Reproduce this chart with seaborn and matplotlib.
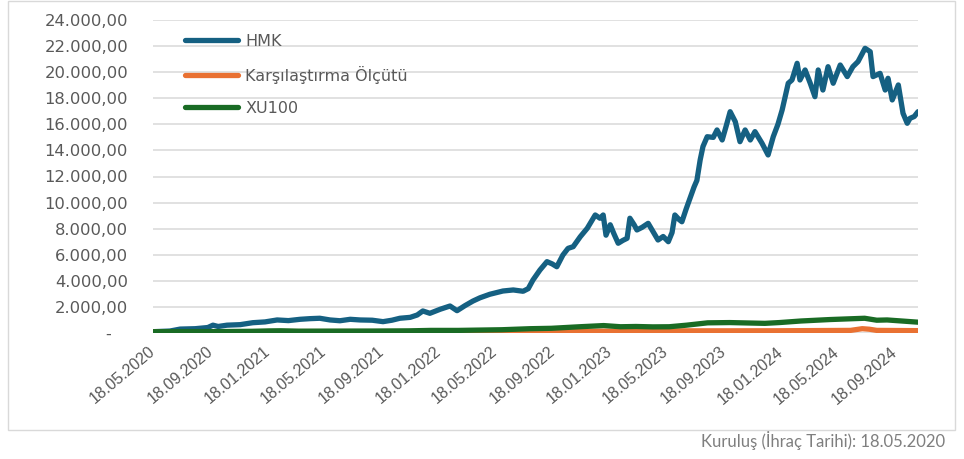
import matplotlib
matplotlib.use("Agg")
import matplotlib.pyplot as plt
from matplotlib.ticker import FuncFormatter
from matplotlib.patches import Rectangle
import pandas as pd
import seaborn as sns

# ---------------- data ----------------
series_names = ["HMK", "Karşılaştırma Ölçütü", "XU100"]

hmk_dates = [
    "2020-05-18", "2020-06-23", "2020-07-15", "2020-08-16", "2020-09-12", "2020-09-23",
    "2020-10-04", "2020-10-23", "2020-11-20", "2020-12-17", "2021-01-12", "2021-02-07",
    "2021-03-03", "2021-03-28", "2021-04-18", "2021-05-09", "2021-05-31", "2021-06-21",
    "2021-07-13", "2021-08-03", "2021-08-29", "2021-09-21", "2021-10-10", "2021-10-27",
    "2021-11-18", "2021-12-03", "2021-12-15", "2021-12-30", "2022-01-21", "2022-02-11",
    "2022-02-26", "2022-03-15", "2022-04-01", "2022-04-16", "2022-05-07", "2022-06-04",
    "2022-06-26", "2022-07-17", "2022-07-28", "2022-08-07", "2022-08-22", "2022-09-06",
    "2022-09-17", "2022-09-27", "2022-10-10", "2022-10-21", "2022-11-01", "2022-11-16",
    "2022-12-01", "2022-12-18", "2022-12-28", "2023-01-04", "2023-01-10", "2023-01-19",
    "2023-01-27", "2023-02-05", "2023-02-15", "2023-02-24", "2023-03-02", "2023-03-11",
    "2023-03-17", "2023-03-28", "2023-04-10", "2023-04-20", "2023-05-01", "2023-05-12",
    "2023-05-23", "2023-05-31", "2023-06-06", "2023-06-15", "2023-06-21", "2023-06-30",
    "2023-07-08", "2023-07-17", "2023-07-23", "2023-07-30", "2023-08-05", "2023-08-14",
    "2023-08-27", "2023-09-04", "2023-09-15", "2023-09-23", "2023-10-02", "2023-10-13",
    "2023-10-23", "2023-11-03", "2023-11-14", "2023-11-24", "2023-12-09", "2023-12-22",
    "2024-01-02", "2024-01-12", "2024-01-21", "2024-02-03", "2024-02-11", "2024-02-22",
    "2024-02-28", "2024-03-10", "2024-03-21", "2024-03-31", "2024-04-07", "2024-04-17",
    "2024-04-28", "2024-05-09", "2024-05-24", "2024-06-08", "2024-06-20", "2024-07-01",
    "2024-07-16", "2024-07-27", "2024-08-02", "2024-08-17", "2024-08-28", "2024-09-03",
    "2024-09-12", "2024-09-25", "2024-10-05", "2024-10-14", "2024-10-20", "2024-10-29",
    "2024-11-06",
]
hmk_values = [
    100, 150, 300, 330, 420, 600,
    500, 600, 640, 790, 850, 1000,
    950, 1050, 1100, 1130, 1000, 940,
    1050, 1000, 980, 870, 980, 1130,
    1200, 1380, 1690, 1510, 1820, 2070,
    1710, 2100, 2450, 2700, 2970, 3220,
    3300, 3200, 3400, 4060, 4830, 5470,
    5300, 5080, 5980, 6490, 6620, 7380,
    8030, 9050, 8800, 9050, 7500, 8300,
    7600, 6880, 7100, 7260, 8800, 8300,
    7900, 8100, 8410, 7800, 7130, 7400,
    7000, 7700, 9050, 8700, 8530, 9500,
    10300, 11200, 11700, 13270, 14300, 15050,
    15000, 15570, 14800, 15800, 16970, 16200,
    14670, 15570, 14800, 15440, 14550, 13650,
    15050, 16000, 17100, 19150, 19400, 20680,
    19400, 20170, 19150, 18120, 20170, 18630,
    20420, 19150, 20550, 19660, 20420, 20810,
    21830, 21570, 19660, 19910, 18630, 19530,
    17870, 19020, 16850, 16080, 16460, 16600,
    16970,
]

bench_dates = [
    "2020-05-18", "2021-01-15", "2021-03-01", "2022-01-01", "2022-08-01", "2023-01-01",
    "2023-05-01", "2023-06-01", "2024-01-01", "2024-06-15", "2024-07-10", "2024-07-25",
    "2024-08-10", "2024-11-06",
]
bench_values = [100, 105, 110, 110, 130, 140, 150, 165, 170, 200, 330, 290, 200, 180]

xu_dates = [
    "2020-05-18", "2020-08-01", "2020-10-01", "2020-12-15", "2021-01-20", "2021-02-15",
    "2021-03-25", "2021-06-01", "2021-09-01", "2021-11-15", "2022-01-01", "2022-03-01",
    "2022-06-01", "2022-08-01", "2022-09-15", "2022-11-15", "2023-01-05", "2023-02-10",
    "2023-03-15", "2023-04-20", "2023-05-25", "2023-07-01", "2023-08-15", "2023-10-01",
    "2023-12-15", "2024-01-15", "2024-03-01", "2024-05-01", "2024-07-15", "2024-08-10",
    "2024-09-01", "2024-10-10", "2024-11-06",
]
xu_values = [
    100, 110, 110, 130, 160, 170,
    140, 145, 150, 165, 200, 200,
    250, 330, 360, 480, 570, 480,
    500, 470, 480, 600, 780, 800,
    740, 800, 920, 1030, 1130, 980,
    1000, 900, 830,
]

x_tick_labels = ["18.05.2020", "18.09.2020", "18.01.2021", "18.05.2021", "18.09.2021",
                 "18.01.2022", "18.05.2022", "18.09.2022", "18.01.2023", "18.05.2023",
                 "18.09.2023", "18.01.2024", "18.05.2024", "18.09.2024"]
y_ticks = [0, 2000, 4000, 6000, 8000, 10000, 12000, 14000, 16000, 18000, 20000, 22000, 24000]
footer = "Kuruluş (İhraç Tarihi): 18.05.2020"

# ---------------- build long table ----------------
frames = []
for name, d, v in zip(series_names,
                      [hmk_dates, bench_dates, xu_dates],
                      [hmk_values, bench_values, xu_values]):
    frames.append(pd.DataFrame({"Tarih": pd.to_datetime(d), "Değer": v, "Seri": name}))
df = pd.concat(frames, ignore_index=True)

colors = {"HMK": "#156082", "Karşılaştırma Ölçütü": "#E97132", "XU100": "#196B24"}

sns.set_theme(style="white")
plt.rcParams["font.family"] = ["DejaVu Sans"]

W, H = 964, 459
fig = plt.figure(figsize=(W / 100, H / 100), dpi=100)
ax = fig.add_axes([153 / W, (H - 333) / H, 765 / W, 313 / H])

sns.lineplot(data=df, x="Tarih", y="Değer", hue="Seri", hue_order=series_names,
             palette=colors, estimator=None, sort=True, legend=False, ax=ax,
             linewidth=3.8, solid_capstyle="round", solid_joinstyle="round")

ax.set_xlim(pd.Timestamp("2020-05-18"), pd.Timestamp("2024-11-06"))
ax.set_ylim(0, 24000)
ax.set_yticks(y_ticks)
for y in y_ticks:
    ax.axhline(y, color="#d9d9d9", lw=1.1, zorder=0)
for s in ax.spines.values():
    s.set_visible(False)


def yfmt(v, pos):
    if v == 0:
        return "-   "
    s = f"{v:,.2f}"
    return s.replace(",", "X").replace(".", ",").replace("X", ".")


ax.yaxis.set_major_formatter(FuncFormatter(yfmt))
ax.tick_params(axis="y", length=0, pad=18, labelsize=11.8, labelcolor="#595959")

xt = pd.to_datetime(x_tick_labels, format="%d.%m.%Y")
ax.set_xticks(xt)
ax.set_xticklabels(x_tick_labels)
ax.tick_params(axis="x", length=0, pad=12, labelcolor="#595959")
for lab in ax.get_xticklabels():
    lab.set_rotation(40)
    lab.set_ha("right")
    lab.set_va("center")
    lab.set_rotation_mode("anchor")
    lab.set_fontsize(11.5)
    lab.set_family(["Liberation Sans", "DejaVu Sans"])
ax.set_xlabel("")
ax.set_ylabel("")

handles = [plt.Line2D([], [], color=colors[n], lw=3.8, solid_capstyle="round") for n in series_names]
leg = ax.legend(handles, series_names, loc="upper left", bbox_to_anchor=(0.042, 0.955),
                frameon=False, borderaxespad=0, borderpad=0, handlelength=3.3,
                handletextpad=0.45, labelspacing=1.05, fontsize=11.5)
for t in leg.get_texts():
    t.set_color("#595959")

fig.patches.append(Rectangle((8 / W, (H - 430) / H), 947 / W, 429 / H,
                             transform=fig.transFigure, fill=False,
                             edgecolor="#d9d9d9", lw=1.0))

fig.text(945 / W, 1 - 441 / H, footer, ha="right", va="center",
         fontsize=12, color="#7f7f7f", family=["Lato", "DejaVu Sans"])

fig.savefig("out.png", dpi=100)
